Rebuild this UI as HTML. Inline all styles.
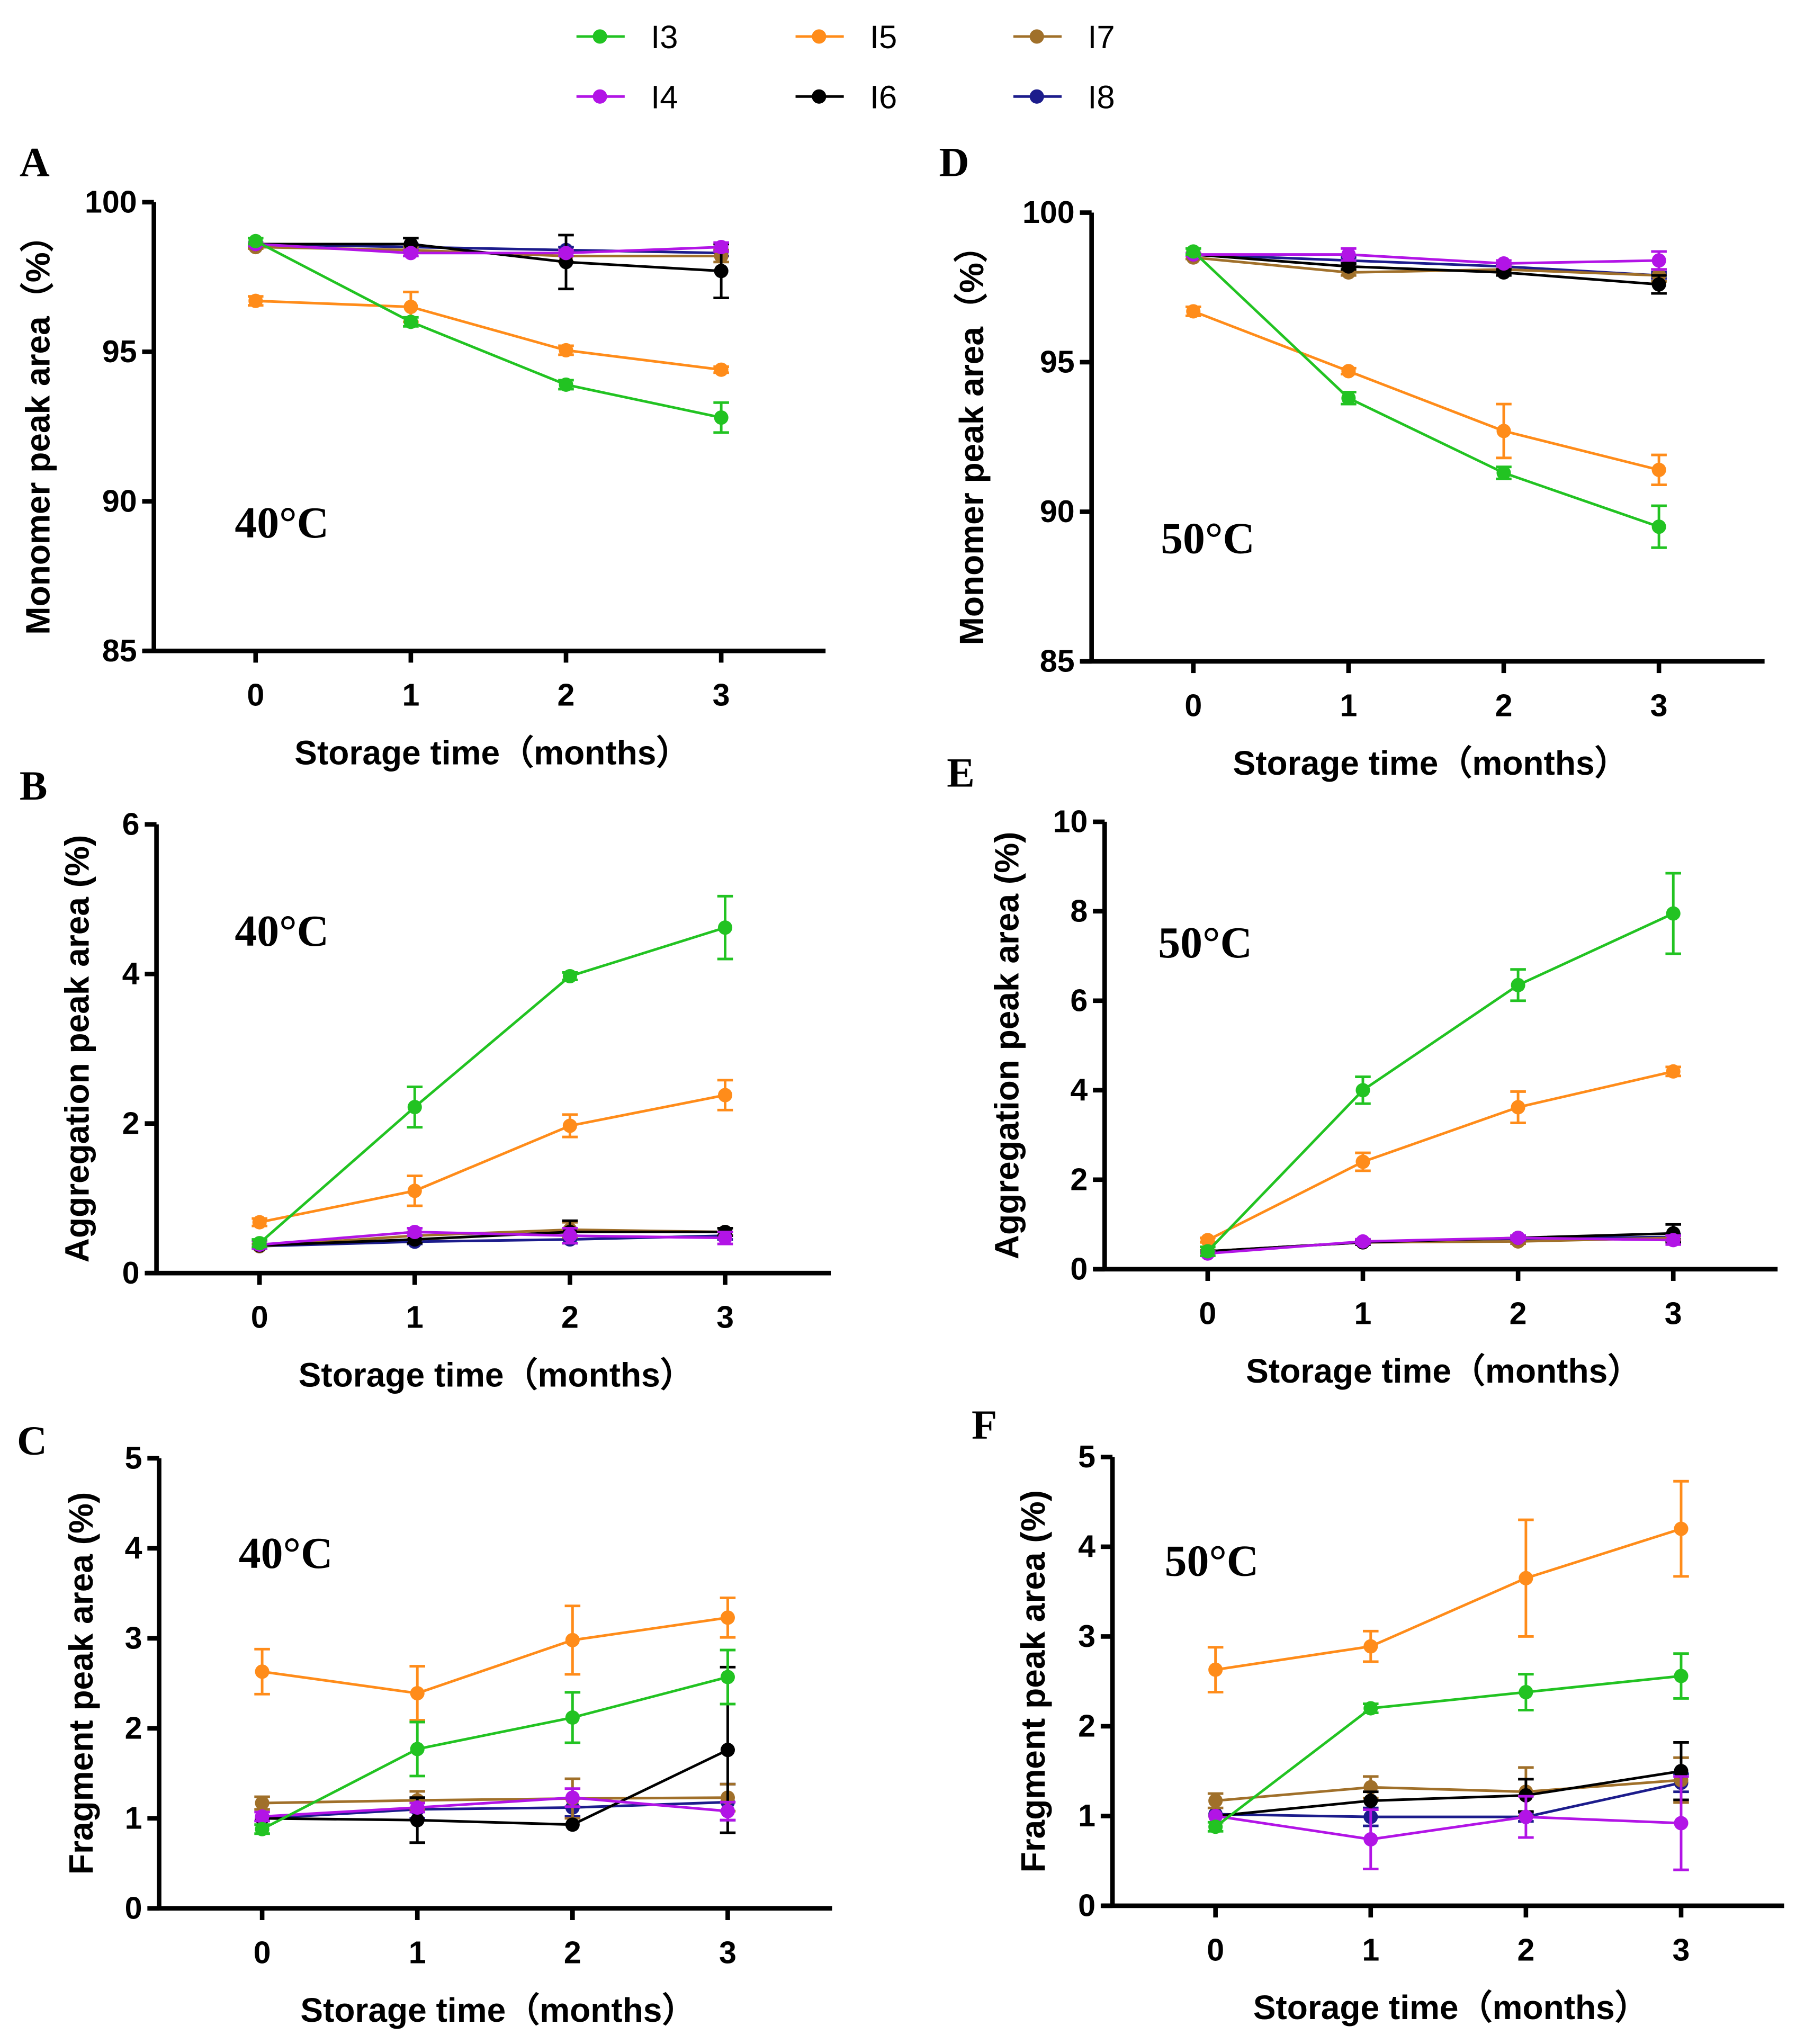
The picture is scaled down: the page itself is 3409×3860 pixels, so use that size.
<!DOCTYPE html>
<html><head><meta charset="utf-8"><style>
html,body{margin:0;padding:0;background:#fff}
svg{display:block}
.tk{font-family:"Liberation Sans",sans-serif;font-weight:bold;font-size:24px}
.tt{font-family:"Liberation Sans",sans-serif;font-weight:bold;font-size:26px}
.pl{font-family:"Liberation Serif",serif;font-weight:bold;font-size:32px}
.tc{font-family:"Liberation Serif",serif;font-weight:bold;font-size:34px}
.lg{font-family:"Liberation Sans",sans-serif;font-size:25px}
</style></head><body>
<svg id="fig" width="3409" height="3860" viewBox="0 0 1384 1567" preserveAspectRatio="none" xmlns="http://www.w3.org/2000/svg"></svg>
<script>
const months=[0,1,2,3];
const seriesNames=["I8","I7","I6","I5","I4","I3"];
const colors={I3:"#22c322",I4:"#b214e6",I5:"#ff8c1a",I6:"#000000",I7:"#a0702a",I8:"#1c1c8c"};
// Panel A monomer 40C
const A_I3=[98.7,96.0,93.9,92.8], A_I3e=[0.1,0.15,0.15,0.5];
const A_I4=[98.6,98.3,98.3,98.5], A_I4e=[0.05,0.1,0.1,0.15];
const A_I5=[96.7,96.5,95.05,94.4], A_I5e=[0.15,0.5,0.15,0.1];
const A_I6=[98.6,98.6,98.0,97.7], A_I6e=[0,0.2,0.9,0.9];
const A_I7=[98.5,98.4,98.2,98.2], A_I7e=[0.05,0.1,0.2,0.2];
const A_I8=[98.6,98.5,98.4,98.3], A_I8e=[0,0.1,0.1,0.1];
// Panel D monomer 50C
const D_I3=[98.7,93.8,91.3,89.5], D_I3e=[0.1,0.2,0.2,0.7];
const D_I4=[98.6,98.6,98.3,98.4], D_I4e=[0.05,0.2,0.1,0.3];
const D_I5=[96.7,94.7,92.7,91.4], D_I5e=[0.15,0.1,0.9,0.5];
const D_I6=[98.6,98.2,98.0,97.6], D_I6e=[0,0.1,0.1,0.3];
const D_I7=[98.5,98.0,98.1,97.9], D_I7e=[0.05,0.1,0.1,0.2];
const D_I8=[98.6,98.4,98.2,97.9], D_I8e=[0,0.1,0.1,0.1];
// Panel B aggregation 40C
const B_I3=[0.4,2.22,3.97,4.62], B_I3e=[0.05,0.27,0.05,0.42];
const B_I4=[0.38,0.55,0.5,0.47], B_I4e=[0.05,0.05,0.1,0.08];
const B_I5=[0.68,1.1,1.97,2.38], B_I5e=[0.05,0.2,0.15,0.2];
const B_I6=[0.37,0.45,0.55,0.55], B_I6e=[0,0.05,0.15,0.05];
const B_I7=[0.36,0.5,0.58,0.55], B_I7e=[0.03,0.05,0.1,0.05];
const B_I8=[0.36,0.42,0.45,0.5], B_I8e=[0,0.03,0.05,0.05];
// Panel E aggregation 50C
const E_I3=[0.4,4.0,6.35,7.95], E_I3e=[0.1,0.3,0.35,0.9];
const E_I4=[0.35,0.62,0.7,0.65], E_I4e=[0.05,0.05,0.05,0.1];
const E_I5=[0.65,2.4,3.62,4.42], E_I5e=[0.05,0.2,0.35,0.1];
const E_I6=[0.4,0.6,0.7,0.8], E_I6e=[0,0.05,0.05,0.2];
const E_I7=[0.4,0.6,0.62,0.7], E_I7e=[0.03,0.05,0.05,0.05];
const E_I8=[0.4,0.6,0.68,0.72], E_I8e=[0,0.03,0.03,0.05];
// Panel C fragment 40C
const C_I3=[0.88,1.77,2.12,2.57], C_I3e=[0.05,0.3,0.28,0.3];
const C_I4=[1.02,1.12,1.23,1.08], C_I4e=[0.05,0.05,0.1,0.1];
const C_I5=[2.63,2.39,2.98,3.23], C_I5e=[0.25,0.3,0.38,0.22];
const C_I6=[1.0,0.98,0.93,1.76], C_I6e=[0,0.25,0,0.92];
const C_I7=[1.17,1.2,1.22,1.23], C_I7e=[0.07,0.1,0.22,0.15];
const C_I8=[1.0,1.1,1.12,1.18], C_I8e=[0,0.1,0.1,0.2];
// Panel F fragment 50C
const F_I3=[0.88,2.2,2.38,2.56], F_I3e=[0.05,0.05,0.2,0.25];
const F_I4=[1.0,0.74,0.99,0.92], F_I4e=[0,0.33,0.23,0.52];
const F_I5=[2.63,2.89,3.65,4.2], F_I5e=[0.25,0.17,0.65,0.53];
const F_I6=[1.0,1.17,1.23,1.5], F_I6e=[0,0.1,0.18,0.32];
const F_I7=[1.17,1.32,1.27,1.4], F_I7e=[0.08,0.12,0.27,0.25];
const F_I8=[1.02,0.99,0.99,1.37], F_I8e=[0,0.1,0.05,0.1];
const ticksMono=[85,90,95,100], ticksAggB=[0,2,4,6], ticksAggE=[0,2,4,6,8,10], ticksFrag=[0,1,2,3,4,5];

const NS="http://www.w3.org/2000/svg";
const svg=document.getElementById("fig");
function mk(tag,at,parent,text){const e=document.createElementNS(NS,tag);for(const k in at)e.setAttribute(k,at[k]);if(text!==undefined)e.textContent=text;(parent||svg).appendChild(e);return e;}

const panels=[
 {id:"a",letter:"A",lx:15,ly:135,ax:118,top:155,bot:499,x0:196,dx:119,right:633,ymin:85,ymax:100,ticks:ticksMono,ytitle:"Monomer peak area（%）",ytx:38,tlx:180,tly:412,temp:"40°C",d:{I3:[A_I3,A_I3e],I4:[A_I4,A_I4e],I5:[A_I5,A_I5e],I6:[A_I6,A_I6e],I7:[A_I7,A_I7e],I8:[A_I8,A_I8e]}},
 {id:"b",letter:"B",lx:15,ly:613,ax:120,top:632,bot:976,x0:199,dx:119,right:637,ymin:0,ymax:6,ticks:ticksAggB,ytitle:"Aggregation peak area (%)",ytx:68,tlx:180,tly:725,temp:"40°C",d:{I3:[B_I3,B_I3e],I4:[B_I4,B_I4e],I5:[B_I5,B_I5e],I6:[B_I6,B_I6e],I7:[B_I7,B_I7e],I8:[B_I8,B_I8e]}},
 {id:"c",letter:"C",lx:13,ly:1115,ax:122,top:1118,bot:1463,x0:201,dx:119,right:638,ymin:0,ymax:5,ticks:ticksFrag,ytitle:"Fragment peak area (%)",ytx:71,tlx:183,tly:1202,temp:"40°C",d:{I3:[C_I3,C_I3e],I4:[C_I4,C_I4e],I5:[C_I5,C_I5e],I6:[C_I6,C_I6e],I7:[C_I7,C_I7e],I8:[C_I8,C_I8e]}},
 {id:"d",letter:"D",lx:720,ly:135,ax:837,top:163,bot:507,x0:915,dx:119,right:1353,ymin:85,ymax:100,ticks:ticksMono,ytitle:"Monomer peak area（%）",ytx:754,tlx:890,tly:424,temp:"50°C",d:{I3:[D_I3,D_I3e],I4:[D_I4,D_I4e],I5:[D_I5,D_I5e],I6:[D_I6,D_I6e],I7:[D_I7,D_I7e],I8:[D_I8,D_I8e]}},
 {id:"e",letter:"E",lx:726,ly:603,ax:847,top:630,bot:973,x0:926,dx:119,right:1363,ymin:0,ymax:10,ticks:ticksAggE,ytitle:"Aggregation peak area (%)",ytx:781,tlx:888,tly:734,temp:"50°C",d:{I3:[E_I3,E_I3e],I4:[E_I4,E_I4e],I5:[E_I5,E_I5e],I6:[E_I6,E_I6e],I7:[E_I7,E_I7e],I8:[E_I8,E_I8e]}},
 {id:"f",letter:"F",lx:745,ly:1103,ax:853,top:1117,bot:1461,x0:932,dx:119,right:1368,ymin:0,ymax:5,ticks:ticksFrag,ytitle:"Fragment peak area (%)",ytx:801,tlx:893,tly:1208,temp:"50°C",d:{I3:[F_I3,F_I3e],I4:[F_I4,F_I4e],I5:[F_I5,F_I5e],I6:[F_I6,F_I6e],I7:[F_I7,F_I7e],I8:[F_I8,F_I8e]}}
];

panels.forEach(p=>{
 const g=mk("g",{});
 
 
 const ys=v=>p.bot-(v-p.ymin)/(p.ymax-p.ymin)*(p.bot-p.top);
 const xs=m=>p.x0+m*p.dx;
 const L=mk("text",{x:p.lx,y:p.ly,class:"pl"},g,p.letter);
 
 
 const yax=mk("line",{x1:p.ax,y1:p.top,x2:p.ax,y2:p.bot,stroke:"#000","stroke-width":3.5},g);
 
 
 const xax=mk("line",{x1:p.ax-8,y1:p.bot,x2:p.right,y2:p.bot,stroke:"#000","stroke-width":3.5},g);
 
 
 p.ticks.forEach(t=>{
  const y=ys(t);
  mk("line",{x1:p.ax-9,y1:y,x2:p.ax,y2:y,stroke:"#000","stroke-width":3.5},g);
  const tl=mk("text",{x:p.ax-13,y:y+8,"text-anchor":"end",class:"tk"},g,String(t));
  
  
 });
 months.forEach(m=>{
  const x=xs(m);
  mk("line",{x1:x,y1:p.bot,x2:x,y2:p.bot+9,stroke:"#000","stroke-width":3.5},g);
  const tl=mk("text",{x:x,y:p.bot+42,"text-anchor":"middle",class:"tk"},g,String(m));
  
  
 });
 const xt=mk("text",{x:(p.ax+p.right)/2+2,y:p.bot+87,"text-anchor":"middle",class:"tt"},g,"Storage time（months）");
 
 
 const cy=(p.top+p.bot)/2;
 const yt=mk("text",{x:p.ytx,y:cy,"text-anchor":"middle",class:"tt",transform:`rotate(-90 ${p.ytx} ${cy})`},g,p.ytitle);
 
 
 const tc=mk("text",{x:p.tlx,y:p.tly,class:"tc"},g,p.temp);
 
 
 seriesNames.forEach(s=>{
  const [vals,errs]=p.d[s]; const c=colors[s];
  const sg=mk("g",{},g);
  
  
  mk("polyline",{points:vals.map((v,i)=>xs(months[i])+","+ys(v)).join(" "),fill:"none",stroke:c,"stroke-width":2},sg);
  vals.forEach((v,i)=>{
   const x=xs(months[i]),y=ys(v),e=errs[i];
   if(e>0){
    const y1=ys(v+e),y2=ys(v-e);
    mk("path",{d:`M${x},${y1}V${y2}M${x-6},${y1}H${x+6}M${x-6},${y2}H${x+6}`,stroke:c,"stroke-width":2,fill:"none"},sg);
   }
   const pt=mk("circle",{cx:x,cy:y,r:5.5,fill:c},sg);
   
   
  });
 });
});

const legendItems=[["I3",442,28],["I5",610,28],["I7",777,28],["I4",442,74],["I6",610,74],["I8",777,74]];
const lg=mk("g",{});


legendItems.forEach(([s,x,y])=>{
 const eg=mk("g",{},lg);
 
 
 mk("line",{x1:x,y1:y,x2:x+37,y2:y,stroke:colors[s],"stroke-width":2},eg);
 mk("circle",{cx:x+18,cy:y,r:5.5,fill:colors[s]},eg);
 mk("text",{x:x+57,y:y+9,class:"lg"},eg,s);
});
</script>
</body></html>
